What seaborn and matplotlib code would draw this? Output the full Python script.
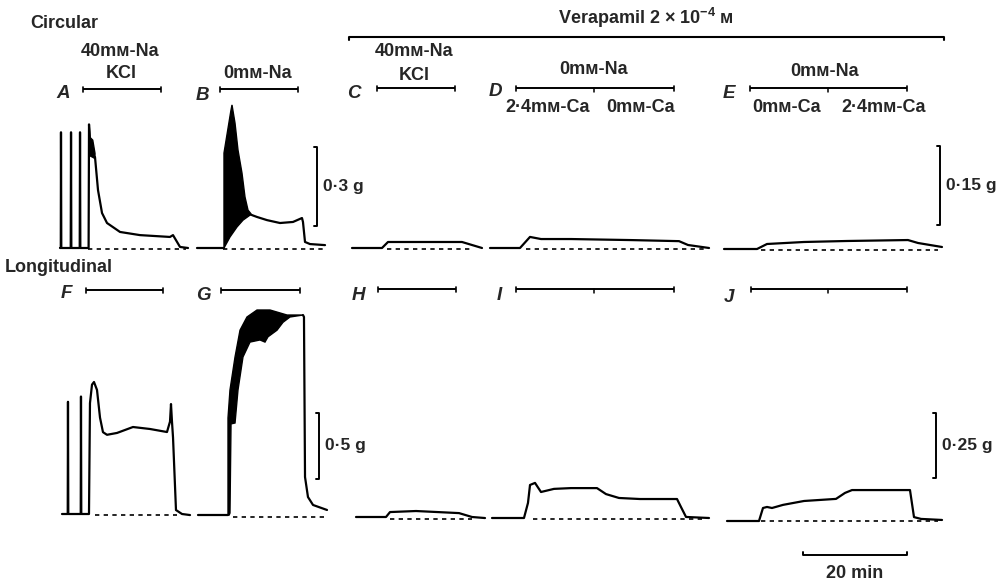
import numpy as np
import matplotlib
matplotlib.use("Agg")
import matplotlib.pyplot as plt
import seaborn as sns
from matplotlib.transforms import blended_transform_factory

# ---------------- data (time in min, tension in g) ----------------
# Circular muscle, control
A_t = [0, 0.15, 0.19, 0.25, 2.06, 2.12, 2.18, 3.79, 3.85, 3.91, 5.5, 5.58, 5.7]
A_g = [0, 0, 0.44, 0, 0, 0.44, 0, 0, 0.44, 0, 0, 0.47, 0.42]
A_osc_up_t = [5.6, 5.8, 6.3, 6.73]
A_osc_up_g = [0.47, 0.42, 0.41, 0.36]
A_osc_lo_t = [5.6, 5.8, 6.3, 6.73]
A_osc_lo_g = [0.40, 0.35, 0.345, 0.34]
A_t2 = [6.73, 7.31, 8.08, 9.04, 11.54, 15.38, 21.15, 21.73, 23.08, 24.62]
A_g2 = [0.346, 0.22, 0.133, 0.095, 0.061, 0.049, 0.042, 0.049, 0.004, 0.0]

B_t = [0, 5.19]
B_g = [0, 0]
B_osc_up_t = [5.19, 5.19, 6.5, 6.73, 7.31, 7.88, 8.65, 9.23, 9.81, 10.58]
B_osc_up_g = [0, 0.361, 0.52, 0.544, 0.475, 0.373, 0.285, 0.194, 0.144, 0.125]
B_osc_lo_t = [5.19, 6.35, 7.69, 8.85, 10.19, 10.58]
B_osc_lo_g = [0, 0.042, 0.08, 0.106, 0.125, 0.125]
B_t2 = [10.58, 11.54, 13.46, 15.96, 18.46, 20.19, 20.38, 20.77, 21.73, 24.62]
B_g2 = [0.125, 0.118, 0.106, 0.095, 0.099, 0.114, 0.099, 0.023, 0.015, 0.011]

# Circular muscle, verapamil
C_t = [0, 5.77, 6.92, 12.31, 21.15, 25.0]
C_g = [0, 0, 0.0114, 0.0114, 0.0114, 0]
D_t = [0, 5.77, 7.69, 9.81, 15.58, 27.31, 36.35, 38.08, 42.12]
D_g = [0, 0, 0.021, 0.017, 0.017, 0.015, 0.013, 0.0057, 0]
E_t = [0, 6.35, 8.27, 15.38, 23.65, 35.38, 37.31, 41.92]
E_g = [0, 0, 0.0095, 0.0133, 0.0152, 0.017, 0.0114, 0.0038]

# Longitudinal muscle, control
F_t = [0, 1.1, 1.15, 1.21, 3.6, 3.65, 3.71, 5.19, 5.38, 5.77, 6.15, 6.73, 7.31,
       7.88, 8.65, 10.58, 13.65, 16.92, 20.19, 20.77, 20.96, 21.15, 21.35, 21.92,
       23.08, 24.62]
F_g = [0, 0, 0.85, 0, 0, 0.89, 0, 0, 0.84, 0.98, 1.0, 0.94, 0.73,
       0.62, 0.6, 0.614, 0.659, 0.644, 0.621, 0.70, 0.833, 0.70, 0.58, 0.03,
       0, -0.008]
G_t = [0, 5.77]
G_g = [0, 0]
G_osc_up_t = [5.77, 5.77, 6.15, 7.12, 8.08, 9.42, 11.35, 13.85, 17.12, 20.19]
G_osc_up_g = [0, 0.735, 0.947, 1.197, 1.40, 1.5, 1.553, 1.553, 1.515, 1.515]
G_osc_lo_t = [6.0, 6.15, 6.35, 7.12, 7.69, 8.65, 10.0, 11.92, 12.88, 13.46, 15.19,
              16.35, 17.69, 20.19]
G_osc_lo_g = [0, 0.015, 0.69, 0.697, 0.947, 1.197, 1.31, 1.326, 1.31, 1.35, 1.40,
              1.46, 1.5, 1.515]
G_t2 = [20.19, 20.38, 20.58, 21.15, 22.12, 24.81]
G_g2 = [1.515, 1.5, 0.288, 0.136, 0.076, 0.038]

# Longitudinal muscle, verapamil
H_t = [0, 5.77, 6.54, 11.54, 19.81, 22.31, 24.81]
H_g = [0, 0, 0.019, 0.023, 0.015, 0, -0.004]
I_t = [0, 6.15, 6.92, 7.31, 8.27, 9.42, 11.92, 15.19, 20.19, 21.92, 24.42, 28.46,
       35.58, 36.35, 37.31, 41.73]
I_g = [0, 0, 0.058, 0.127, 0.135, 0.1, 0.112, 0.115, 0.115, 0.092, 0.077, 0.073,
       0.073, 0.042, 0.004, 0]
J_t = [0, 6.15, 6.92, 7.69, 8.65, 10.77, 14.81, 20.96, 22.69, 24.04, 35.19, 35.96,
       37.31, 41.35]
J_g = [0, 0, 0.05, 0.054, 0.05, 0.062, 0.077, 0.085, 0.108, 0.119, 0.119, 0.015,
       0.008, 0.004]

# dashed zero-tension baselines (start, end, level) in min / g
baseline_spans = {
    "A": (5.38, 24.23, -0.004), "B": (5.0, 24.62, -0.004),
    "C": (6.73, 23.08, -0.002), "D": (6.92, 41.35, -0.002), "E": (7.12, 41.15, -0.002),
    "F": (6.35, 22.12, -0.008), "G": (6.73, 24.42, -0.015),
    "H": (6.54, 22.31, -0.008), "I": (7.88, 40.96, -0.004), "J": (6.54, 40.58, 0.0),
}
# application periods (min): start, end, mid-change (None if single)
app_periods = {
    "A": (4.42, 19.42, None), "B": (4.42, 19.42, None),
    "C": (4.81, 19.81, None), "D": (5.0, 35.38, 20.0), "E": (5.0, 35.19, 20.0),
    "F": (4.62, 19.42, None), "G": (4.42, 19.62, None),
    "H": (4.23, 19.23, None), "I": (4.62, 35.0, 19.6), "J": (4.62, 34.62, 19.4),
}
# calibration bars: panel, time (min), bottom (g), size (g), label
cal_bars = [("B", 23.08, 0.084, 0.3, "0·3 g"), ("E", 41.54, 0.0455, 0.15, "0·15 g"),
            ("G", 23.27, 0.273, 0.5, "0·5 g"), ("J", 40.19, 0.165, 0.25, "0·25 g")]
time_bar = ("J", 14.62, 20.0, "20 min")

# ---------------- layout ----------------
W, H = 1006, 583
PX_MIN = 5.2
# panel: (x origin px, baseline px, px per g, top px of axes)
layout = {
    "A": (60, 248, 263, 95), "B": (197, 248, 263, 95),
    "C": (352, 248, 527, 95), "D": (490, 248, 527, 95), "E": (724, 249, 527, 95),
    "F": (62, 514, 132, 300), "G": (198, 515, 132, 300),
    "H": (356, 517, 260, 300), "I": (492, 518, 260, 300), "J": (727, 521, 260, 300),
}
letter_pos = {"A": (63, 94), "B": (202, 95), "C": (354, 94), "D": (495, 91),
              "E": (729, 94), "F": (66, 294), "G": (203, 295), "H": (358, 296),
              "I": (499, 296), "J": (729, 298)}
bar_y = {"A": 89, "B": 89, "C": 88, "D": 88, "E": 88,
         "F": 290, "G": 290, "H": 289, "I": 289, "J": 289}

sns.set_theme(style="white")
plt.rcParams["font.family"] = ["Liberation Sans", "DejaVu Sans"]
plt.rcParams["mathtext.fontset"] = "custom"
plt.rcParams["mathtext.rm"] = "Liberation Sans"
plt.rcParams["mathtext.bf"] = "Liberation Sans:bold"

FS = 13
fig = plt.figure(figsize=(W / 100, H / 100), dpi=100)
fig.patch.set_facecolor("white")
ov = fig.add_axes([0, 0, 1, 1])
ov.set_xlim(0, W)
ov.set_ylim(H, 0)
ov.axis("off")

TMAX = 45
axes = {}
for name, (x0, yb, k, top) in layout.items():
    bot = yb + 12
    ax = fig.add_axes([x0 / W, 1 - bot / H, TMAX * PX_MIN / W, (bot - top) / H])
    ax.set_xlim(0, TMAX)
    ax.set_ylim((yb - bot) / k, (yb - top) / k)
    ax.axis("off")
    ax.patch.set_alpha(0)
    axes[name] = ax

LW = 1.6
def trace(name, t, g):
    sns.lineplot(x=t, y=g, ax=axes[name], color="black", lw=LW, sort=False,
                 estimator=None, legend=False)
    for ln in axes[name].lines:
        ln.set_clip_on(False)
        ln.set_solid_joinstyle("round")

def osc(name, ut, ug, lt, lg):
    axes[name].fill(np.r_[ut, lt[::-1]], np.r_[ug, lg[::-1]], color="black",
                    lw=1.0, clip_on=False)

trace("A", A_t, A_g); osc("A", A_osc_up_t, A_osc_up_g, A_osc_lo_t, A_osc_lo_g); trace("A", A_t2, A_g2)
trace("B", B_t, B_g); osc("B", B_osc_up_t, B_osc_up_g, B_osc_lo_t, B_osc_lo_g); trace("B", B_t2, B_g2)
trace("C", C_t, C_g); trace("D", D_t, D_g); trace("E", E_t, E_g)
trace("F", F_t, F_g)
trace("G", G_t, G_g); osc("G", G_osc_up_t, G_osc_up_g, G_osc_lo_t, G_osc_lo_g); trace("G", G_t2, G_g2)
trace("H", H_t, H_g); trace("I", I_t, I_g); trace("J", J_t, J_g)

for name, (t0, t1, lev) in baseline_spans.items():
    axes[name].plot([t0, t1], [lev, lev], color="black", lw=1.2,
                    linestyle=(0, (2.6, 2.6)), clip_on=False)

def btrans(name):
    return blended_transform_factory(axes[name].transData, ov.transData)

for name, (t0, t1, mid) in app_periods.items():
    tr = btrans(name)
    y = bar_y[name]
    ax = axes[name]
    ax.plot([t0, t1], [y, y], color="black", lw=1.4, transform=tr, clip_on=False,
            solid_capstyle="butt")
    for tt in (t0, t1):
        ax.plot([tt, tt], [y - 2.5, y + 2.5], color="black", lw=1.2, transform=tr,
                clip_on=False)
    if mid is not None:
        ax.plot([mid, mid], [y, y + 4], color="black", lw=1.1, transform=tr,
                clip_on=False)

# calibration bars
for name, t, g0, size, lab in cal_bars:
    ax = axes[name]
    cap = 0.6
    ax.plot([t - cap, t, t, t - cap], [g0 + size, g0 + size, g0, g0], color="black",
            lw=1.4, clip_on=False)
    xd, yd = ax.transData.transform((t, g0 + size / 2))
    xo, yo = ov.transData.inverted().transform((xd, yd))
    ov.text(xo + 6, yo, lab, ha="left", va="center", fontsize=12.5,
            fontweight="bold")

# time calibration bar
name, t0, dur, lab = time_bar
tr = btrans(name)
axes[name].plot([t0, t0, t0 + dur, t0 + dur], [552, 555, 555, 552], color="black",
                lw=1.4, transform=tr, clip_on=False)
xd, _ = axes[name].transData.transform((t0 + dur / 2, 0))
xo, _ = ov.transData.inverted().transform((xd, 0))
ov.text(xo, 573, lab, ha="center", va="center", fontsize=FS, fontweight="bold")

# verapamil bar spanning C..E
def to_ov(name, t):
    xd, yd = axes[name].transData.transform((t, 0))
    return ov.transData.inverted().transform((xd, yd))[0]
vx0, vx1 = to_ov("C", -0.6), to_ov("E", 42.3)
ov.plot([vx0, vx0, vx1, vx1], [40, 37, 37, 40], color="black", lw=1.5)
ov.text((vx0 + vx1) / 2 - 1, 18, "Verapamil 2 × 10$^{\\mathbf{-4}}$ м",
        ha="center", va="center", fontsize=FS, fontweight="bold")

# texts
TXT = dict(ha="center", va="center", fontsize=FS, fontweight="bold")
ov.text(30, 23, "Circular", ha="left", va="center", fontsize=FS, fontweight="bold")
ov.text(5, 267, "Longitudinal", ha="left", va="center", fontsize=FS, fontweight="bold")
labels = [("40mм-Na", 120, 51), ("KCl", 121, 73), ("0mм-Na", 258, 73),
          ("40mм-Na", 414, 52), ("KCl", 414, 75),
          ("0mм-Na", 594, 70), ("2·4mм-Ca", 548, 107), ("0mм-Ca", 641, 107),
          ("0mм-Na", 825, 72), ("0mм-Ca", 787, 107), ("2·4mм-Ca", 884, 107)]
for s, x, y in labels:
    ov.text(x, y, s, **TXT)
for k_, (x, y) in letter_pos.items():
    ov.text(x, y, k_, ha="center", va="center", fontsize=13.5, fontweight="bold",
            fontstyle="italic")

fig.savefig("out.png", dpi=100, facecolor="white")
